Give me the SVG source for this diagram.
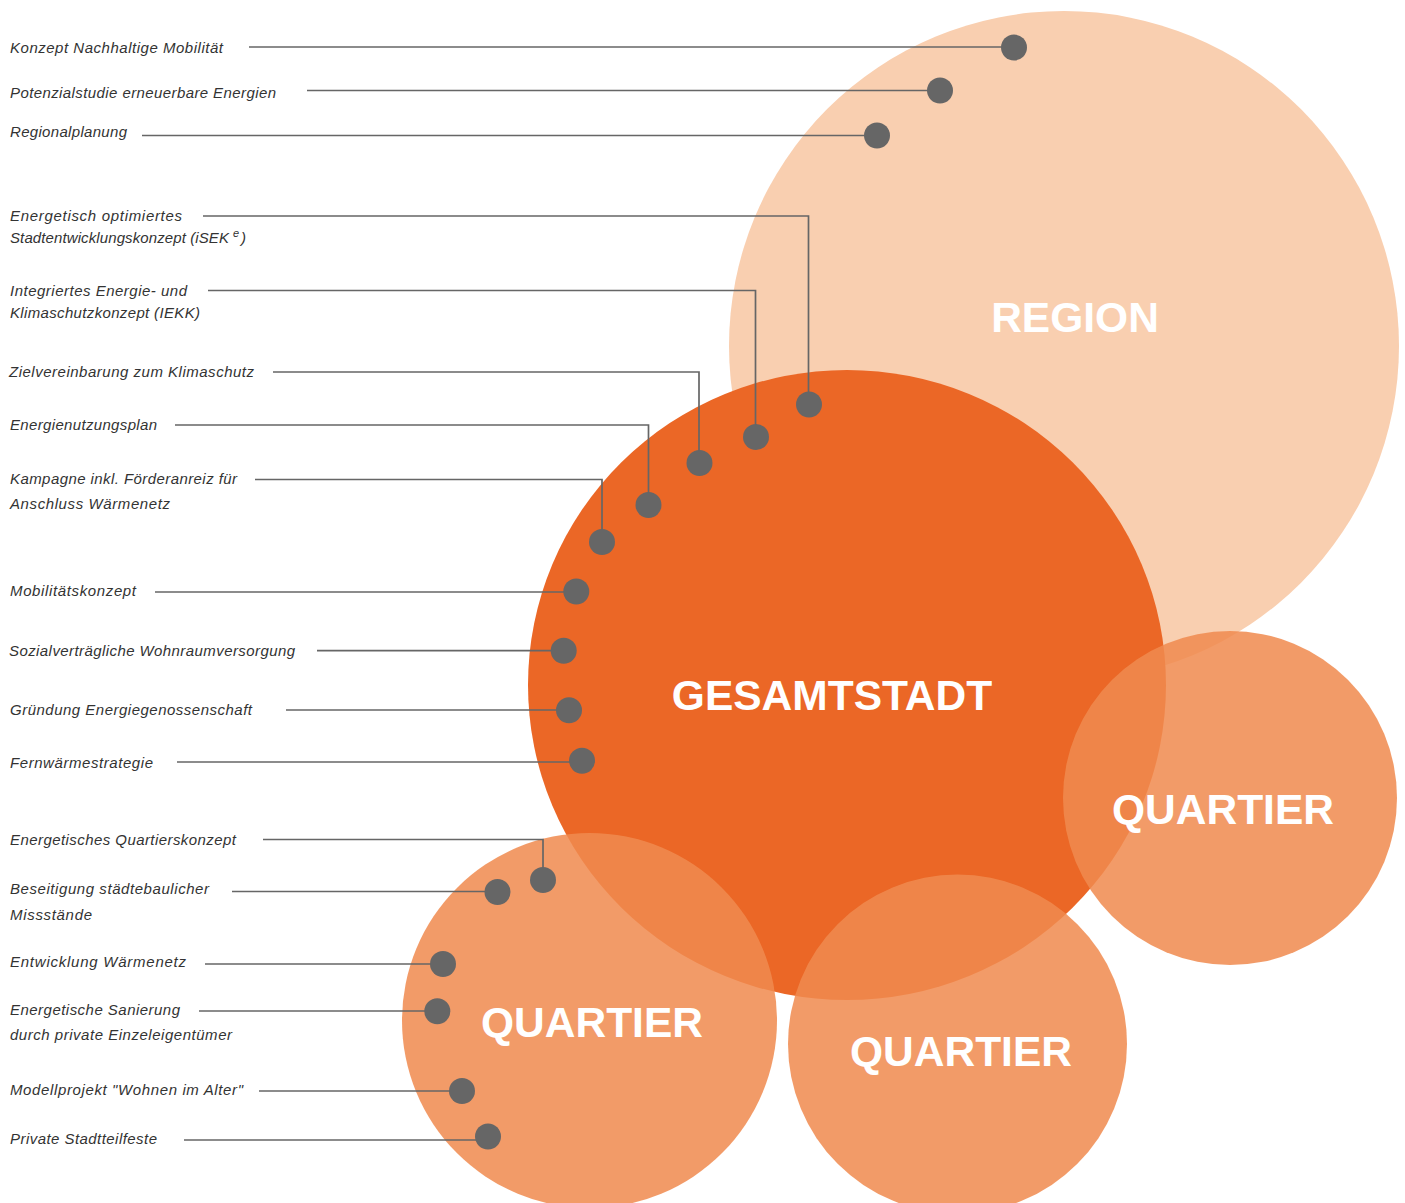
<svg xmlns="http://www.w3.org/2000/svg" width="1405" height="1203" viewBox="0 0 1405 1203">
<style>
.lbl{font-family:"Liberation Sans",Arial,sans-serif;font-style:italic;font-size:15px;fill:#333333;}
.sup{font-family:"Liberation Sans",Arial,sans-serif;font-style:italic;font-size:11px;fill:#333333;}
.big{font-family:"Liberation Sans",Arial,sans-serif;font-weight:bold;font-size:42.5px;fill:#ffffff;text-anchor:middle;}
.con{fill:none;stroke:#666666;stroke-width:1.7;}
.dot{fill:#666666;}
.quartier{fill:#f08b4f;fill-opacity:0.86;}
</style>
<rect width="1405" height="1203" fill="#ffffff"/>
<g id="region"><circle cx="1064" cy="346" r="335" fill="#f9cfb0"/></g>
<g id="gesamtstadt"><ellipse cx="847" cy="685" rx="319" ry="315" fill="#eb6726"/></g>
<g id="quartier-rechts"><circle class="quartier" cx="1230" cy="798" r="167"/></g>
<g id="quartier-links"><circle class="quartier" cx="589.5" cy="1020.5" r="187.5"/></g>
<g id="quartier-mitte"><circle class="quartier" cx="957.5" cy="1044" r="169.5"/></g>
<g id="circle-labels">
<text class="big" x="1075" y="332">REGION</text>
<text class="big" x="832" y="710">GESAMTSTADT</text>
<text class="big" x="1223" y="824">QUARTIER</text>
<text class="big" x="592" y="1037">QUARTIER</text>
<text class="big" x="961" y="1066">QUARTIER</text>
</g>
<g id="connectors">
<path class="con" d="M249,47 H1014"/>
<path class="con" d="M307,90.5 H940"/>
<path class="con" d="M142,135.5 H877"/>
<path class="con" d="M203,216 H808.5 V404"/>
<path class="con" d="M208,290.5 H755.5 V437"/>
<path class="con" d="M273,372 H699 V463"/>
<path class="con" d="M175,425 H648.5 V505"/>
<path class="con" d="M255,479.5 H602 V542"/>
<path class="con" d="M155,592 H576"/>
<path class="con" d="M317,650.7 H564"/>
<path class="con" d="M286,710 H569"/>
<path class="con" d="M177,762 H582"/>
<path class="con" d="M263,839.5 H543 V880"/>
<path class="con" d="M232,891.5 H497"/>
<path class="con" d="M205,964 H443"/>
<path class="con" d="M199,1011 H437"/>
<path class="con" d="M259,1091 H462"/>
<path class="con" d="M184,1140 H488"/>
</g>
<g id="item-konzept-mobilitaet"><text class="lbl" x="10" y="53" textLength="213">Konzept Nachhaltige Mobilität</text><circle class="dot" cx="1014" cy="47.5" r="13"/></g>
<g id="item-potenzialstudie"><text class="lbl" x="10" y="98" textLength="266">Potenzialstudie erneuerbare Energien</text><circle class="dot" cx="940" cy="90.5" r="13"/></g>
<g id="item-regionalplanung"><text class="lbl" x="10" y="137" textLength="117">Regionalplanung</text><circle class="dot" cx="877" cy="135.5" r="13"/></g>
<g id="item-isek"><text class="lbl" x="10" y="221" textLength="172">Energetisch optimiertes</text><text class="lbl" x="10" y="243" textLength="219">Stadtentwicklungskonzept (iSEK</text><text class="sup" x="233" y="237">e</text><text class="lbl" x="241" y="243">)</text><circle class="dot" cx="809" cy="404.5" r="13"/></g>
<g id="item-iekk"><text class="lbl" x="10" y="296" textLength="177">Integriertes Energie- und</text><text class="lbl" x="10" y="318" textLength="190">Klimaschutzkonzept (IEKK)</text><circle class="dot" cx="756" cy="437" r="13"/></g>
<g id="item-zielvereinbarung"><text class="lbl" x="9" y="377" textLength="245">Zielvereinbarung zum Klimaschutz</text><circle class="dot" cx="699.5" cy="463" r="13"/></g>
<g id="item-energienutzungsplan"><text class="lbl" x="10" y="430" textLength="147">Energienutzungsplan</text><circle class="dot" cx="648.5" cy="505" r="13"/></g>
<g id="item-kampagne"><text class="lbl" x="10" y="484" textLength="227">Kampagne  inkl. Förderanreiz für</text><text class="lbl" x="10" y="509" textLength="160">Anschluss Wärmenetz</text><circle class="dot" cx="602" cy="542" r="13"/></g>
<g id="item-mobilitaetskonzept"><text class="lbl" x="10" y="596" textLength="126">Mobilitätskonzept</text><circle class="dot" cx="576.3" cy="591.5" r="13"/></g>
<g id="item-wohnraum"><text class="lbl" x="9" y="656" textLength="286">Sozialverträgliche Wohnraumversorgung</text><circle class="dot" cx="563.7" cy="650.7" r="13"/></g>
<g id="item-energiegenossenschaft"><text class="lbl" x="10" y="715" textLength="242">Gründung Energiegenossenschaft</text><circle class="dot" cx="569" cy="710.3" r="13"/></g>
<g id="item-fernwaerme"><text class="lbl" x="10" y="768" textLength="143">Fernwärmestrategie</text><circle class="dot" cx="582" cy="760.7" r="13"/></g>
<g id="item-quartierskonzept"><text class="lbl" x="10" y="845" textLength="226">Energetisches Quartierskonzept</text><circle class="dot" cx="543" cy="880" r="13"/></g>
<g id="item-missstaende"><text class="lbl" x="10" y="894" textLength="199">Beseitigung städtebaulicher</text><text class="lbl" x="10" y="920" textLength="82">Missstände</text><circle class="dot" cx="497.5" cy="892" r="13"/></g>
<g id="item-waermenetz"><text class="lbl" x="10" y="967" textLength="176">Entwicklung  Wärmenetz</text><circle class="dot" cx="443" cy="964" r="13"/></g>
<g id="item-sanierung"><text class="lbl" x="10" y="1015" textLength="170">Energetische Sanierung</text><text class="lbl" x="10" y="1040" textLength="222">durch private Einzeleigentümer</text><circle class="dot" cx="437.3" cy="1011.3" r="13"/></g>
<g id="item-wohnen-alter"><text class="lbl" x="10" y="1095" textLength="233">Modellprojekt "Wohnen  im Alter"</text><circle class="dot" cx="462" cy="1091" r="13"/></g>
<g id="item-stadtteilfeste"><text class="lbl" x="10" y="1144" textLength="147">Private Stadtteilfeste</text><circle class="dot" cx="488" cy="1136.5" r="13"/></g>
</svg>
